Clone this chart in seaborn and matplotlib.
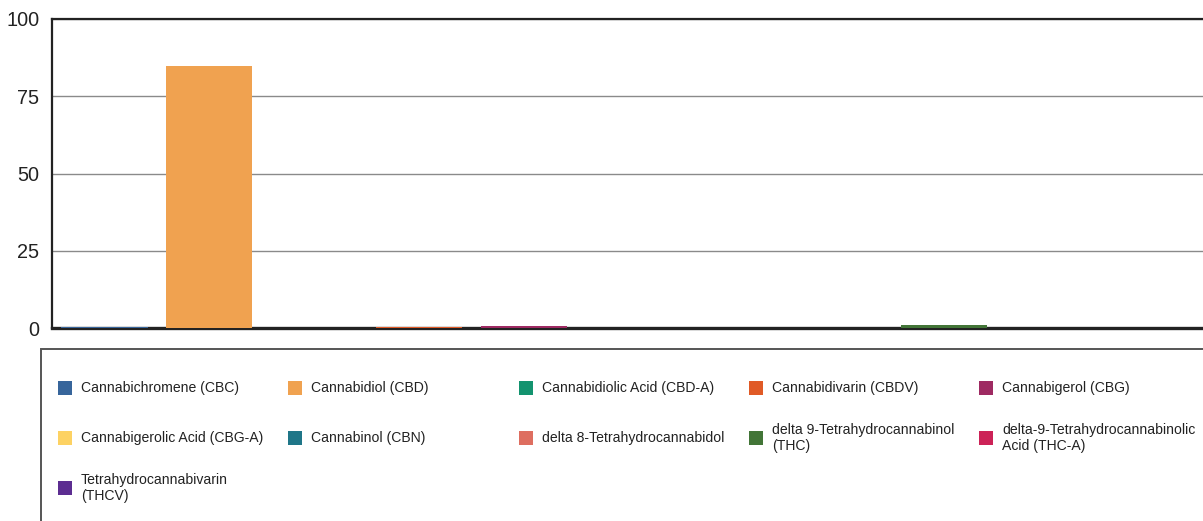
"""Cannabinoid profile bar chart with a boxed five-column legend."""
import matplotlib

matplotlib.use("Agg")
import matplotlib.pyplot as plt
import seaborn as sns
from matplotlib.patches import Rectangle

categories = [
    "Cannabichromene (CBC)",
    "Cannabidiol (CBD)",
    "Cannabidiolic Acid (CBD-A)",
    "Cannabidivarin (CBDV)",
    "Cannabigerol (CBG)",
    "Cannabigerolic Acid (CBG-A)",
    "Cannabinol (CBN)",
    "delta 8-Tetrahydrocannabidol",
    "delta 9-Tetrahydrocannabinol\n(THC)",
    "delta-9-Tetrahydrocannabinolic\nAcid (THC-A)",
    "Tetrahydrocannabivarin\n(THCV)",
]
values = [0.25, 84.8, 0.0, 0.25, 0.6, 0.0, 0.0, 0.0, 0.9, 0.0, 0.0]
colors = [
    "#37659b", "#f0a250", "#13936f", "#e05a26", "#9e2a62", "#fdd263",
    "#1f7688", "#de6e60", "#427537", "#cc2257", "#5c2d91",
]
y_ticks = [0, 25, 50, 75, 100]

W, H = 1203, 521
sns.set_theme(style="white")
plt.rcParams["font.family"] = ["Liberation Sans", "DejaVu Sans"]

fig = plt.figure(figsize=(W / 100, H / 100), dpi=100)
ax = fig.add_axes([52 / W, 1 - 328 / H, 1154.5 / W, 309 / H])

ax.set_axisbelow(True)
ax.yaxis.grid(True, color="#8a8a8a", linewidth=1.0)
sns.barplot(x=categories, y=values, hue=categories, palette=colors,
            width=0.82, legend=False, saturation=1, linewidth=0,
            edgecolor="none", ax=ax)
for bar in ax.patches:
    bar.set_zorder(3)

ax.set_xlim(-0.5, len(categories) - 0.5)
ax.set_ylim(0, 100)
ax.set_yticks(y_ticks)
ax.set_xticks([])
ax.set_xlabel("")
ax.set_ylabel("")
ax.tick_params(axis="y", length=0, pad=9, labelsize=14.3, labelcolor="#222222")
for side in ["left", "top", "bottom"]:
    ax.spines[side].set_visible(True)
    ax.spines[side].set_color("#222222")
ax.spines["left"].set_linewidth(1.6)
ax.spines["top"].set_linewidth(1.6)
ax.spines["bottom"].set_linewidth(2.4)
ax.spines["bottom"].set_zorder(1.5)
ax.spines["right"].set_visible(False)

# legend frame runs off the right and bottom edges like in the source
fig.patches.append(Rectangle((41 / W, -0.1), 1.2, 1 - 349 / H + 0.1,
                             transform=fig.transFigure, fill=False,
                             edgecolor="#555555", linewidth=1.4))

col_x = [58, 288, 519, 749, 979]
row_y = [388, 438, 488]
for i, (label, color) in enumerate(zip(categories, colors)):
    x = col_x[i % 5]
    y = row_y[i // 5]
    fig.patches.append(Rectangle((x / W, 1 - (y + 7) / H), 14 / W, 14 / H,
                                 transform=fig.transFigure, facecolor=color,
                                 edgecolor="none"))
    fig.text((x + 23) / W, 1 - y / H, label, fontsize=10.1, color="#222222",
             va="center", ha="left", linespacing=1.18)

fig.savefig("out.png", dpi=100)
